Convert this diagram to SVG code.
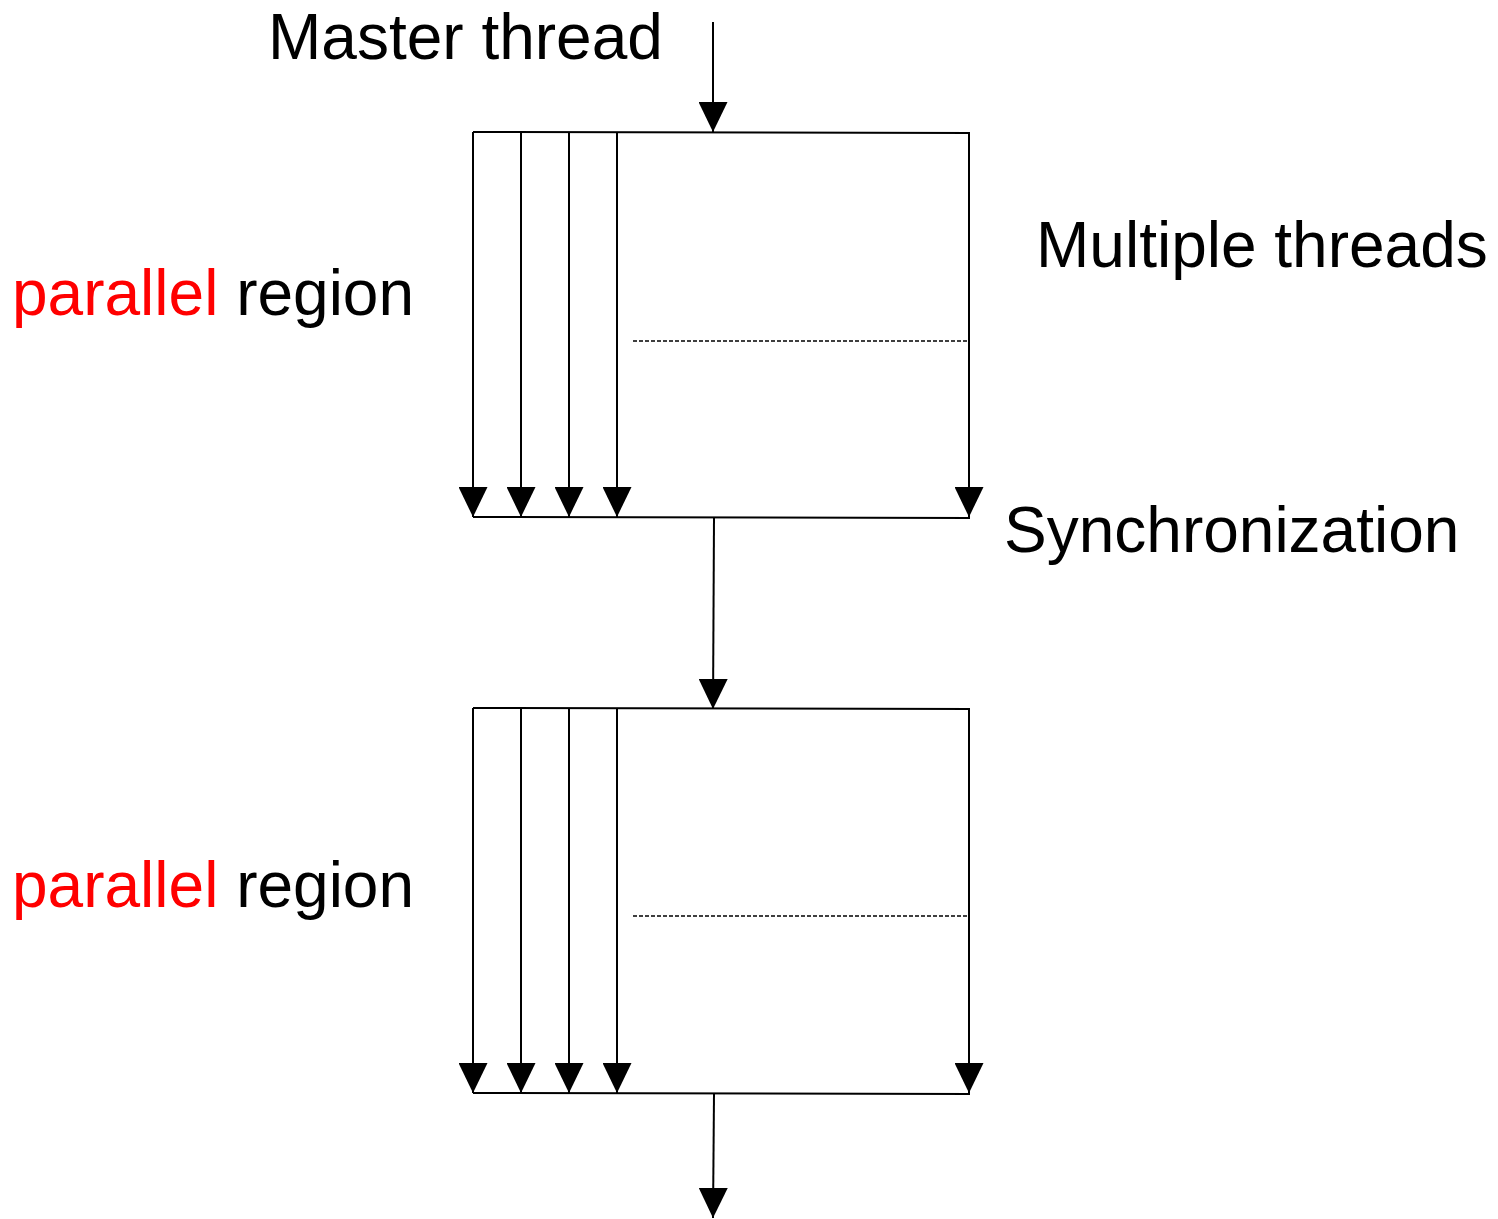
<svg xmlns="http://www.w3.org/2000/svg" width="1498" height="1219" viewBox="0 0 1498 1219">
<defs>
<marker id="ah" markerWidth="30" markerHeight="29" refX="30" refY="14.5" orient="auto" markerUnits="userSpaceOnUse" viewBox="0 0 30 29">
<path d="M0,0 L30,14.5 L0,29 Z" fill="#000"/>
</marker>
</defs>
<style>
text{font-family:"Liberation Sans",Arial,sans-serif;font-size:64px;fill:#000}
.red{fill:#ff0000}
.ln{stroke:#000;stroke-width:2;fill:none}
.ar{stroke:#000;stroke-width:2;fill:none}
.dash{stroke:#000;stroke-width:1.5;stroke-dasharray:4,2;fill:none}
</style>
<rect width="1498" height="1219" fill="#fff"/>
<g id="labels">
<text id="master" x="268" y="59">Master thread</text>
<text id="multiple" x="1036" y="267">Multiple threads</text>
<text id="sync" x="1004" y="552">Synchronization</text>
<text id="pr1" x="12" y="315"><tspan class="red">parallel</tspan> region</text>
<text id="pr2" x="12" y="907"><tspan class="red">parallel</tspan> region</text>
</g>
<g id="region1">
<line class="ln" x1="473" y1="132" x2="970" y2="133"/>
<line class="ln" x1="473" y1="517" x2="970" y2="518"/>
<line class="dash" x1="633" y1="341" x2="968" y2="341"/>
</g>
<g id="region2">
<line class="ln" x1="473" y1="708" x2="970" y2="709"/>
<line class="ln" x1="473" y1="1093" x2="970" y2="1094"/>
<line class="dash" x1="633" y1="916" x2="968" y2="916"/>
</g>
<g id="connectors">
<line class="ar" x1="713" y1="22" x2="713" y2="132" marker-end="url(#ah)"/>
<line class="ar" x1="473" y1="132" x2="473" y2="517" marker-end="url(#ah)"/>
<line class="ar" x1="521" y1="132" x2="521" y2="517" marker-end="url(#ah)"/>
<line class="ar" x1="569" y1="132" x2="569" y2="517" marker-end="url(#ah)"/>
<line class="ar" x1="617" y1="132" x2="617" y2="517" marker-end="url(#ah)"/>
<line class="ar" x1="969" y1="133" x2="969" y2="517" marker-end="url(#ah)"/>
<line class="ar" x1="714" y1="518" x2="713" y2="709" marker-end="url(#ah)"/>
<line class="ar" x1="473" y1="708" x2="473" y2="1093" marker-end="url(#ah)"/>
<line class="ar" x1="521" y1="708" x2="521" y2="1093" marker-end="url(#ah)"/>
<line class="ar" x1="569" y1="708" x2="569" y2="1093" marker-end="url(#ah)"/>
<line class="ar" x1="617" y1="708" x2="617" y2="1093" marker-end="url(#ah)"/>
<line class="ar" x1="969" y1="709" x2="969" y2="1093" marker-end="url(#ah)"/>
<line class="ar" x1="714" y1="1094" x2="713" y2="1218" marker-end="url(#ah)"/>
</g>
</svg>
